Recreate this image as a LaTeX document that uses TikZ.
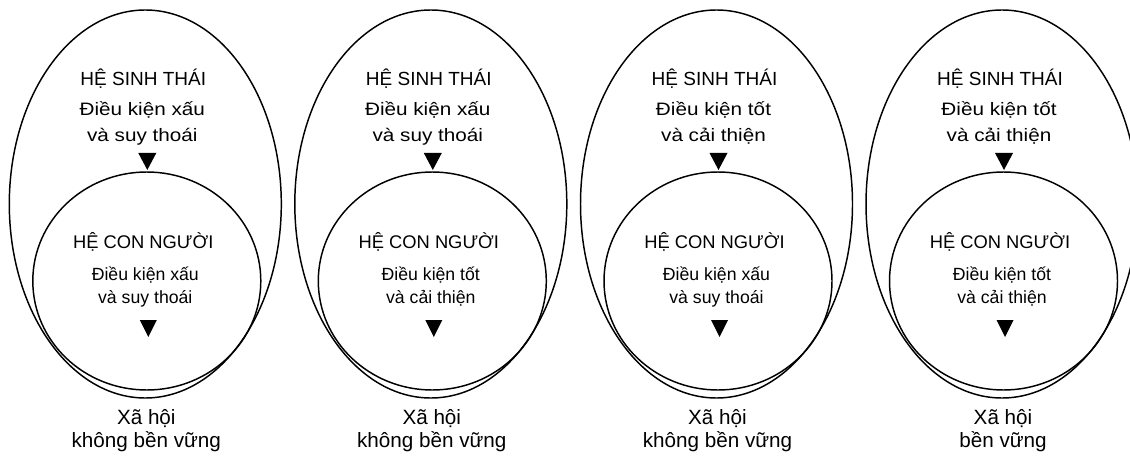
\documentclass[tikz,border=0pt]{standalone}
\usepackage{fontspec}
\setmainfont{Liberation Sans}
\newfontfamily\widefont{Liberation Sans}[FakeStretch=1.15]

\begin{document}
\begin{tikzpicture}[x=0.75pt,y=-0.75pt, line width=1.1pt,
  every node/.style={inner sep=0pt, anchor=base},
  headtext/.style={font=\fontsize{14.25}{17}\selectfont},
  humhead/.style={font=\fontsize{13.75}{17}\selectfont},
  ecotext/.style={font=\widefont\fontsize{13.5}{16}\selectfont},
  humtext/.style={font=\fontsize{13.25}{16}\selectfont},
  soctext/.style={font=\fontsize{15.5}{18}\selectfont}]
  \useasboundingbox (0,0) rectangle (1130,456);
  \clip (0,0) rectangle (1130,456);

  \foreach \i/\cx/\ea/\eb/\ha/\hb/\sb in {
      1/145.3/Điều kiện xấu/và suy thoái/Điều kiện xấu/và suy thoái/không bền vững,
      2/430.8/Điều kiện xấu/và suy thoái/Điều kiện tốt/và cải thiện/không bền vững,
      3/716.5/Điều kiện tốt/và cải thiện/Điều kiện xấu/và suy thoái/không bền vững,
      4/1002/Điều kiện tốt/và cải thiện/Điều kiện tốt/và cải thiện/bền vững} {
    \draw (\cx,204) ellipse [x radius=136, y radius=194];
    \draw (\cx+1.5,281) ellipse [x radius=114, y radius=109];

    \node[headtext] (eco-\i) at (\cx-2,86) {HỆ SINH THÁI};
    \node[ecotext] (ecoa-\i) at (\cx-3,116) {\ea};
    \node[ecotext] (ecob-\i) at (\cx-3,142) {\eb};
    \coordinate (ecotip-\i) at (\cx+2,170);
    \fill (ecotip-\i) -- ++(-9,-17) -- ++(18,0) -- cycle;

    \node[humhead] (hum-\i) at (\cx-2,248) {HỆ CON NGƯỜI};
    \node[humtext] (huma-\i) at (\cx,280) {\ha};
    \node[humtext] (humb-\i) at (\cx,303) {\hb};
    \coordinate (humtip-\i) at (\cx+3,337);
    \fill (humtip-\i) -- ++(-8.5,-17) -- ++(17,0) -- cycle;

    \node[soctext] (soca-\i) at (\cx+1,424) {Xã hội};
    \node[soctext] (socb-\i) at (\cx+1,447) {\sb};
  }
\end{tikzpicture}
\end{document}
